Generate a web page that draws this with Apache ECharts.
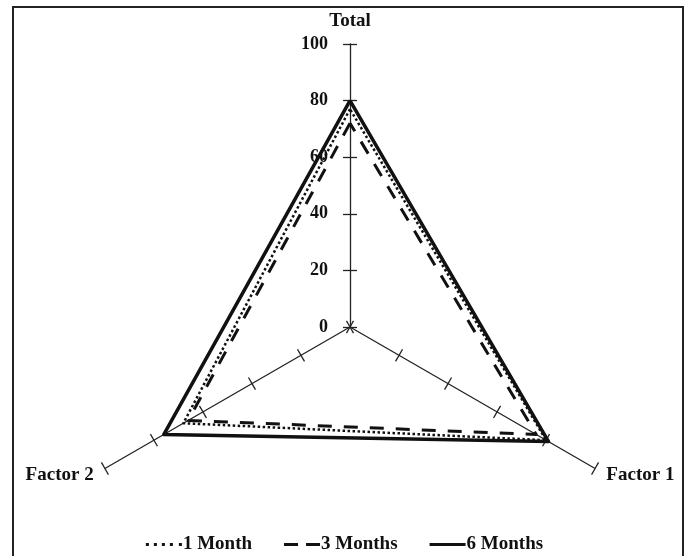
<!DOCTYPE html>
<html>
<head>
<meta charset="utf-8">
<script src="https://cdn.jsdelivr.net/npm/echarts@6/dist/echarts.min.js"></script>
<style>
html,body{margin:0;padding:0;background:#fff}
#radar{width:689px;height:556px}
</style>
</head>
<body>
<div id="radar"></div>
<script>
// axes in the order echarts walks them (top, then left, then right)
var axisNames = ['Total', 'Factor 2', 'Factor 1'];
var axisMax = 100;
var splits = 5;

var seriesNames = ['1 Month', '3 Months', '6 Months'];
var month1 = [77, 68, 80];
var month3 = [72, 66, 76];
var month6 = [80, 76, 81];

var font = 'Liberation Serif';
var chart = echarts.init(document.getElementById('radar'));

var indicators = axisNames.map(function (n, i) {
    var ind = { name: n, min: 0, max: axisMax };
    if (i == 0) ind.axisLabel = { show: true }; // numbers only on the Total axis
    return ind;
});

// legend icons as small paths: dots, dashes, solid bar
var iconDot = 'path://M0 0h3v3H0z M8 0h3v3H8z M16 0h3v3H16z M24 0h3v3H24z M33 0h3v3H33z';
var iconDash = 'path://M0 0h14v3H0z M22 0h14v3H22z';
var iconSolid = 'path://M0 0h36v3H0z';

var radarBase = {
    center: [350, 327],
    radius: 283,
    startAngle: 90,
    splitNumber: splits,
    shape: 'polygon',
    splitLine: { show: false },
    splitArea: { show: false }
};

var option = {
    animation: false,
    backgroundColor: '#fff',
    graphic: [{
        type: 'rect',
        shape: { x: 13, y: 7, width: 670, height: 560 },
        style: { fill: 'none', stroke: '#222', lineWidth: 2 },
        silent: true
    }],
    legend: {
        top: 530,
        left: 'center',
        itemWidth: 36,
        itemHeight: 3,
        itemGap: 32,
        data: [
            { name: seriesNames[0], icon: iconDot },
            { name: seriesNames[1], icon: iconDash },
            { name: seriesNames[2], icon: iconSolid }
        ],
        textStyle: { color: '#111', fontFamily: font, fontWeight: 'bold', fontSize: 19, padding: [0, 0, 0, -4] }
    },
    radar: [
        Object.assign({}, radarBase, {
            indicator: indicators,
            axisName: { color: '#111', fontFamily: font, fontWeight: 'bold', fontSize: 19 },
            nameGap: 13,
            axisLine: { lineStyle: { color: '#222', width: 1.3 } },
            axisTick: { show: true, length: 7, lineStyle: { color: '#222', width: 1.3 } },
            axisLabel: { show: false, color: '#111', fontFamily: font, fontWeight: 'bold', fontSize: 18, margin: 22 }
        }),
        // second copy only to put the other half of each tick mark
        Object.assign({}, radarBase, {
            indicator: axisNames.map(function (n) { return { name: n, min: 0, max: axisMax }; }),
            axisName: { show: false },
            axisLine: { show: false },
            axisTick: { show: true, length: -7, lineStyle: { color: '#222', width: 1.3 } },
            axisLabel: { show: false }
        })
    ],
    series: [{
        type: 'radar',
        radarIndex: 0,
        symbol: 'none',
        data: [
            { name: seriesNames[0], value: month1, lineStyle: { color: '#111', width: 2.5, type: [2.5, 2.5] }, itemStyle: { color: '#111' } },
            { name: seriesNames[1], value: month3, lineStyle: { color: '#111', width: 3, type: [14, 12] }, itemStyle: { color: '#111' } },
            { name: seriesNames[2], value: month6, lineStyle: { color: '#111', width: 3.5, type: 'solid' }, itemStyle: { color: '#111' } }
        ]
    }]
};

chart.setOption(option);
</script>
</body>
</html>
